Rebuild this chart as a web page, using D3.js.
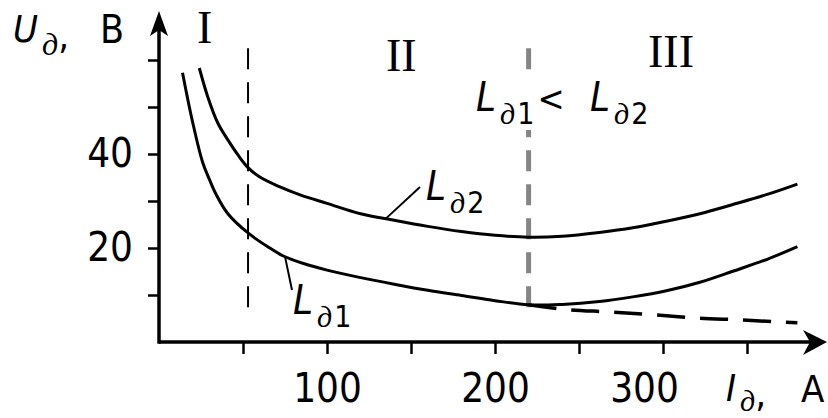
<!DOCTYPE html>
<html>
<head>
<meta charset="utf-8">
<script src="https://cdn.jsdelivr.net/npm/d3@7/dist/d3.min.js"></script>
<style>
  body { margin: 0; background: #fff; }
  svg { display: block; }
  .num { font-family: "DejaVu Sans Condensed", "DejaVu Sans", sans-serif; font-stretch: condensed; }
  .roman { font-family: "Liberation Serif", "Times New Roman", serif; }
</style>
</head>
<body>
<div id="chart"></div>
<script>
// values
var xTicks = [50, 100, 150, 200, 250, 300, 350];
var xLabels = [100, 200, 300];
var yTicks = [10, 20, 30, 40, 50, 60];
var yLabels = [20, 40];

// L_д2 (upper curve)
var upperI = [24, 29, 35, 41, 47, 53, 60, 72, 84, 100, 120, 140, 160, 180, 200, 220, 240, 262, 282, 302, 322, 342, 362, 380];
var upperU = [58.3, 52.2, 46.6, 43, 39.8, 37.1, 35.1, 33, 31.3, 29.5, 27.3, 25.9, 24.6, 23.5, 22.7, 22.3, 22.5, 23.3, 24.3, 25.7, 27.3, 29.3, 31.4, 33.6];

// L_д1 (lower curve)
var lowerI = [14, 20, 26, 30, 34, 41, 53, 65, 74, 86, 100, 120, 140, 160, 180, 200, 220, 240, 262, 282, 302, 322, 342, 362, 380];
var lowerU = [57.3, 46.8, 38.2, 34.6, 31.4, 27.3, 23.2, 20.2, 18.3, 16.7, 15.3, 13.7, 12.3, 11, 9.9, 8.8, 7.9, 8, 8.6, 9.6, 10.9, 12.7, 15.1, 17.6, 20.3];

// dashed falling branch
var fallI = [220, 243, 268, 294, 321, 347, 372, 380];
var fallU = [7.9, 6.9, 6.4, 5.8, 5.1, 4.7, 4.2, 4.1];

// zone borders (current) and their vertical extent (voltage)
var zoneBounds = [53, 220];
var zoneSpan = [5, 62.5];

var width = 828, height = 418;

var x = d3.scaleLinear().domain([0, 350]).range([159, 747]);
var y = d3.scaleLinear().domain([0, 60]).range([342, 60]);

var svg = d3.select("#chart").append("svg")
    .attr("width", width)
    .attr("height", height);

function pts(xs, ys) {
    return xs.map(function(v, i) { return [v, ys[i]]; });
}

var line = d3.line()
    .x(function(d) { return x(d[0]); })
    .y(function(d) { return y(d[1]); })
    .curve(d3.curveCatmullRom);

// zone borders
svg.append("line")
    .attr("x1", x(zoneBounds[0])).attr("x2", x(zoneBounds[0]))
    .attr("y1", y(zoneSpan[1])).attr("y2", y(zoneSpan[0]))
    .attr("stroke", "#000")
    .attr("stroke-width", 2)
    .attr("stroke-dasharray", "21 13");

svg.append("line")
    .attr("x1", x(zoneBounds[1])).attr("x2", x(zoneBounds[1]))
    .attr("y1", y(zoneSpan[1])).attr("y2", y(zoneSpan[0]))
    .attr("stroke", "#858585")
    .attr("stroke-width", 5)
    .attr("stroke-dasharray", "21 13");

// curves
svg.append("path")
    .datum(pts(upperI, upperU))
    .attr("d", line)
    .attr("fill", "none")
    .attr("stroke", "#000")
    .attr("stroke-width", 3);

svg.append("path")
    .datum(pts(lowerI, lowerU))
    .attr("d", line)
    .attr("fill", "none")
    .attr("stroke", "#000")
    .attr("stroke-width", 3);

svg.append("path")
    .datum(pts(fallI, fallU))
    .attr("d", line)
    .attr("fill", "none")
    .attr("stroke", "#000")
    .attr("stroke-width", 3.5)
    .attr("stroke-dasharray", "28 15");

// axes
var xAxis = d3.axisBottom(x)
    .tickValues(xTicks)
    .tickSize(12)
    .tickSizeOuter(0)
    .tickPadding(20)
    .tickFormat(function(d) { return xLabels.indexOf(d) >= 0 ? d : ""; });

var yAxis = d3.axisLeft(y)
    .tickValues(yTicks)
    .tickSize(11)
    .tickSizeOuter(0)
    .tickPadding(15)
    .tickFormat(function(d) { return yLabels.indexOf(d) >= 0 ? d : ""; });

var gx = svg.append("g")
    .attr("transform", "translate(0," + y(0) + ")")
    .call(xAxis);

var gy = svg.append("g")
    .attr("transform", "translate(" + x(0) + ",0)")
    .call(yAxis);

[gx, gy].forEach(function(g) {
    g.select(".domain").remove();
    g.selectAll(".tick line").attr("stroke", "#000").attr("stroke-width", 2.5);
    g.selectAll(".tick text")
        .attr("class", "num")
        .attr("fill", "#000")
        .style("font-size", "40px");
});
gx.selectAll(".tick text").filter(function(d) { return d === 300; }).attr("dx", -19);

// axis lines with arrows
svg.append("line")
    .attr("x1", x(0)).attr("x2", 820)
    .attr("y1", y(0)).attr("y2", y(0))
    .attr("stroke", "#000").attr("stroke-width", 3.5);
svg.append("path")
    .attr("d", "M827," + y(0) + "L803,330L810," + y(0) + "L803,355Z")
    .attr("fill", "#000");

svg.append("line")
    .attr("x1", x(0)).attr("x2", x(0))
    .attr("y1", y(0) + 1.75).attr("y2", 20)
    .attr("stroke", "#000").attr("stroke-width", 3.5);
svg.append("path")
    .attr("d", "M" + x(0) + ",11L" + (x(0) - 9) + ",36L" + x(0) + ",30L" + (x(0) + 9) + ",36Z")
    .attr("fill", "#000");

// labels built from italic letter + subscript д + index
function symbol(parent, px, py, letter, index, size, subSize, drop) {
    var t = parent.append("text")
        .attr("x", px).attr("y", py)
        .attr("fill", "#000");
    t.append("tspan")
        .attr("class", "num")
        .style("font-style", "italic")
        .style("font-size", size + "px")
        .text(letter);
    t.append("tspan")
        .attr("class", "roman")
        .attr("dx", 4)
        .attr("dy", drop === undefined ? subSize * 0.42 : drop)
        .style("font-style", "italic")
        .style("font-size", subSize + "px")
        .text("д");
    if (index) {
        t.append("tspan")
            .attr("class", "num")
            .attr("dx", 2)
            .style("font-size", subSize + "px")
            .text(index);
    }
    return t;
}

// axis titles
var uTitle = symbol(svg, 13, 42, "U", "", 38, 32);
uTitle.append("tspan").attr("class", "num").attr("dy", -6).style("font-size", "38px").text(",");
uTitle.append("tspan").attr("class", "num").attr("x", 100).attr("y", 43).style("font-size", "39px").text("B");

var iTitle = symbol(svg, 726, 401, "I", "", 38, 30, 10);
iTitle.append("tspan").attr("class", "num").attr("dy", -4).style("font-size", "38px").text(",");
iTitle.append("tspan").attr("class", "num").attr("x", 801).attr("y", 402).style("font-size", "38px").text("A");

// zone names
var zoneText = [{ t: "I", px: 197, py: 43 }, { t: "II", px: 386, py: 71 }, { t: "III", px: 648, py: 67 }];
svg.selectAll(".zone")
    .data(zoneText)
    .enter().append("text")
    .attr("class", "roman zone")
    .attr("x", function(d) { return d.px; })
    .attr("y", function(d) { return d.py; })
    .style("font-size", "46px")
    .attr("fill", "#000")
    .text(function(d) { return d.t; });

// L_д1 < L_д2 with white backing
svg.append("rect")
    .attr("x", 474).attr("y", 78)
    .attr("width", 190).attr("height", 52)
    .attr("fill", "#fff");
var cmp = symbol(svg, 476, 111, "L", "1", 40, 30);
cmp.append("tspan").attr("class", "num").attr("dx", 3).attr("dy", -12.6).style("font-size", "36px").text("<");
symbol(svg, 590, 111, "L", "2", 40, 30);

// curve annotations with leader lines
var upperAt = 135, lowerAt = 75;
var upperVal = d3.scaleLinear().domain(upperI).range(upperU)(upperAt);
var lowerVal = d3.scaleLinear().domain(lowerI).range(lowerU)(lowerAt);

svg.append("line")
    .attr("x1", x(upperAt)).attr("y1", y(upperVal))
    .attr("x2", 420).attr("y2", 187)
    .attr("stroke", "#000").attr("stroke-width", 2);
symbol(svg, 426, 200, "L", "2", 40, 30);

svg.append("line")
    .attr("x1", x(lowerAt)).attr("y1", y(lowerVal))
    .attr("x2", 292).attr("y2", 290)
    .attr("stroke", "#000").attr("stroke-width", 2);
symbol(svg, 293, 314, "L", "1", 40, 30);
</script>
</body>
</html>
